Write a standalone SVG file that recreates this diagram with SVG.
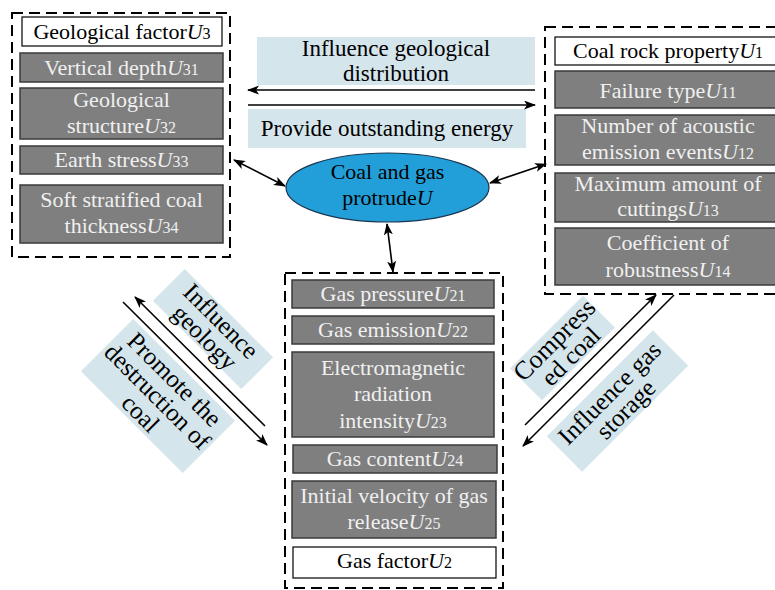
<svg xmlns="http://www.w3.org/2000/svg" width="775" height="590" viewBox="0 0 775 590">
<defs>
<marker id="ah" markerUnits="userSpaceOnUse" markerWidth="12" markerHeight="10" refX="11" refY="4.5" orient="auto-start-reverse">
<path d="M0,0 L12,4.5 L0,9 L3,4.5 Z" fill="#000"/>
</marker>
<style>
text{font-family:"Liberation Serif","Times New Roman",serif;font-size:22px;text-anchor:middle}
.g{fill:#7f7f7f;stroke:#3a3a3a;stroke-width:1.5}
.w{fill:#fff;stroke:#000;stroke-width:1.2}
.gt{fill:#f0f0f0}
.bt{fill:#000}
.dash{fill:none;stroke:#000;stroke-width:2;stroke-dasharray:11 6}
.lb{fill:#d5e5ec}
.u{font-style:italic}
.s{font-size:16px}
.ln{stroke:#000;stroke-width:1.6;fill:none}
.rt{font-size:25px}
.tl{font-size:23px}
</style>
</defs>
<rect width="775" height="590" fill="#fff"/>

<g id="labels-bg">
<rect class="lb" x="257" y="37" width="278" height="48"/>
<rect class="lb" x="248" y="109" width="278" height="39"/>
<rect class="lb" x="-62.5" y="-22.5" width="125" height="45" transform="translate(213,329) rotate(45)"/>
<rect class="lb" x="-72" y="-37" width="144" height="74" transform="translate(158,396) rotate(45)"/>
<rect class="lb" x="-51.5" y="-22.5" width="103" height="45" transform="translate(562.5,348) rotate(-45)"/>
<rect class="lb" x="-75" y="-25" width="150" height="50" transform="translate(617.5,401) rotate(-45)"/>
</g>

<g id="geological">
<rect class="dash" x="12" y="13" width="218" height="244"/>
<rect class="w" x="22" y="17" width="200" height="29"/>
<text class="bt" x="122" y="39">Geological factor<tspan class="u">U</tspan><tspan class="s">3</tspan></text>
<rect class="g" x="20" y="53" width="203" height="29"/>
<text class="gt" x="121.5" y="75">Vertical depth<tspan class="u">U</tspan><tspan class="s">31</tspan></text>
<rect class="g" x="20" y="88" width="203" height="51"/>
<text class="gt" x="121.5" y="107">Geological</text>
<text class="gt" x="121.5" y="133">structure<tspan class="u">U</tspan><tspan class="s">32</tspan></text>
<rect class="g" x="20" y="146" width="203" height="28"/>
<text class="gt" x="121.5" y="167">Earth stress<tspan class="u">U</tspan><tspan class="s">33</tspan></text>
<rect class="g" x="20" y="185" width="203" height="58"/>
<text class="gt" x="121.5" y="207">Soft stratified coal</text>
<text class="gt" x="121.5" y="233">thickness<tspan class="u">U</tspan><tspan class="s">34</tspan></text>
</g>

<g id="coalrock">
<rect class="dash" x="545" y="27" width="245" height="267"/>
<rect class="w" x="555" y="37" width="230" height="28"/>
<text class="bt" x="668" y="58">Coal rock property<tspan class="u">U</tspan><tspan class="s">1</tspan></text>
<rect class="g" x="555" y="71" width="230" height="37"/>
<text class="gt" x="668" y="98">Failure type<tspan class="u">U</tspan><tspan class="s">11</tspan></text>
<rect class="g" x="555" y="115" width="230" height="50"/>
<text class="gt" x="668" y="133">Number of acoustic</text>
<text class="gt" x="668" y="159">emission events<tspan class="u">U</tspan><tspan class="s">12</tspan></text>
<rect class="g" x="555" y="173" width="230" height="49"/>
<text class="gt" x="668" y="191">Maximum amount of</text>
<text class="gt" x="668" y="216">cuttings<tspan class="u">U</tspan><tspan class="s">13</tspan></text>
<rect class="g" x="555" y="228" width="230" height="57"/>
<text class="gt" x="668" y="250">Coefficient of</text>
<text class="gt" x="668" y="277">robustness<tspan class="u">U</tspan><tspan class="s">14</tspan></text>
</g>

<g id="gas">
<rect class="dash" x="285" y="273" width="218" height="315"/>
<rect class="g" x="292" y="280" width="202" height="28"/>
<text class="gt" x="393" y="301">Gas pressure<tspan class="u">U</tspan><tspan class="s">21</tspan></text>
<rect class="g" x="292" y="316" width="202" height="28"/>
<text class="gt" x="393" y="337">Gas emission<tspan class="u">U</tspan><tspan class="s">22</tspan></text>
<rect class="g" x="292" y="352" width="202" height="85"/>
<text class="gt" x="393" y="375">Electromagnetic</text>
<text class="gt" x="393" y="401">radiation</text>
<text class="gt" x="393" y="428">intensity<tspan class="u">U</tspan><tspan class="s">23</tspan></text>
<rect class="g" x="293" y="445" width="204" height="28"/>
<text class="gt" x="395" y="466">Gas content<tspan class="u">U</tspan><tspan class="s">24</tspan></text>
<rect class="g" x="292" y="481" width="204" height="57"/>
<text class="gt" x="394" y="503">Initial velocity of gas</text>
<text class="gt" x="394" y="529">release<tspan class="u">U</tspan><tspan class="s">25</tspan></text>
<rect class="w" x="293" y="547" width="203" height="31"/>
<text class="bt" x="394.5" y="568">Gas factor<tspan class="u">U</tspan><tspan class="s">2</tspan></text>
</g>

<g id="center">
<ellipse cx="387.5" cy="187.5" rx="101.5" ry="34.5" fill="#229fd9" stroke="#1a3550" stroke-width="1.2"/>
<text class="bt" x="387.5" y="179">Coal and gas</text>
<text class="bt" x="387.5" y="205">protrude<tspan class="u">U</tspan></text>
</g>

<g id="connectors">
<line class="ln" x1="535" y1="90" x2="248" y2="90" marker-end="url(#ah)"/>
<line class="ln" x1="248" y1="105" x2="535" y2="105" marker-end="url(#ah)"/>
<line class="ln" x1="285" y1="186" x2="234" y2="160" marker-start="url(#ah)" marker-end="url(#ah)"/>
<line class="ln" x1="490" y1="183" x2="546" y2="164" marker-start="url(#ah)" marker-end="url(#ah)"/>
<line class="ln" x1="387" y1="224" x2="393" y2="272" marker-start="url(#ah)" marker-end="url(#ah)"/>
<line class="ln" x1="265" y1="426" x2="135" y2="297" marker-end="url(#ah)"/>
<line class="ln" x1="123" y1="302" x2="267" y2="445" marker-end="url(#ah)"/>
<line class="ln" x1="525" y1="425" x2="656" y2="295" marker-end="url(#ah)"/>
<line class="ln" x1="674" y1="295" x2="523" y2="446" marker-end="url(#ah)"/>
</g>

<g id="labels">
<text class="bt tl" x="396" y="56">Influence geological</text>
<text class="bt tl" x="396" y="81">distribution</text>
<text class="bt tl" x="387" y="136">Provide outstanding energy</text>
<g transform="translate(213,329) rotate(45)">
<text class="bt rt" x="0" y="-3">Influence</text>
<text class="bt rt" x="0" y="20">geology</text>
</g>
<g transform="translate(158,396) rotate(45)">
<text class="bt rt" x="0" y="-15">Promote the</text>
<text class="bt rt" x="0" y="9">destruction of</text>
<text class="bt rt" x="0" y="33">coal</text>
</g>
<g transform="translate(562.5,348) rotate(-45)">
<text class="bt rt" x="0" y="-3" style="font-size:26px">Compress</text>
<text class="bt rt" x="0" y="20">ed coal</text>
</g>
<g transform="translate(617.5,401) rotate(-45)">
<text class="bt rt" x="0" y="-3">Influence gas</text>
<text class="bt rt" x="0" y="20">storage</text>
</g>
</g>
</svg>
